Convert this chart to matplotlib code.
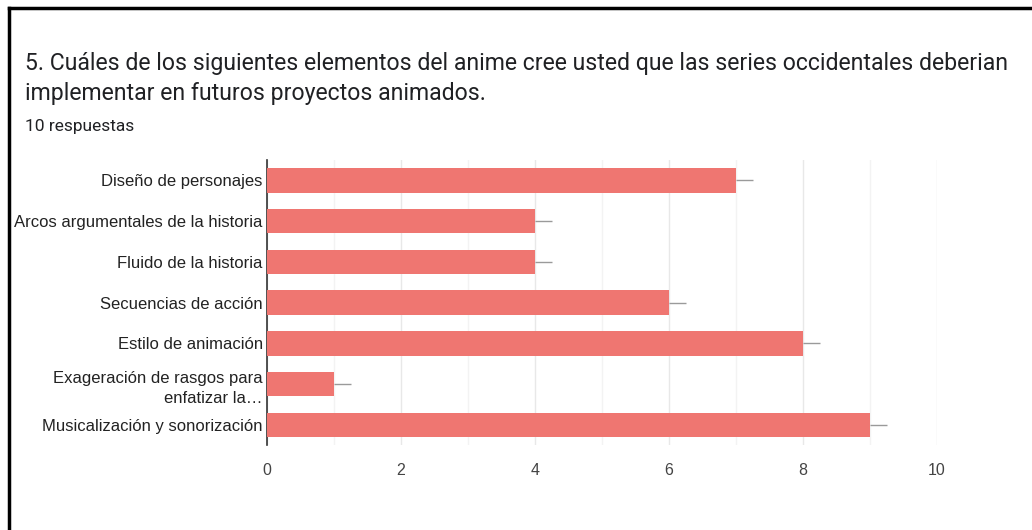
import matplotlib.pyplot as plt
from matplotlib.lines import Line2D
import numpy as np

categories = [
    "Diseño de personajes",
    "Arcos argumentales de la historia",
    "Fluido de la historia",
    "Secuencias de acción",
    "Estilo de animación",
    "Exageración de rasgos para\nenfatizar la…",
    "Musicalización y sonorización",
]
values = [7, 4, 4, 6, 8, 1, 9]
xticks = [0, 2, 4, 6, 8, 10]

title_1 = "5. Cuáles de los siguientes elementos del anime cree usted que las series occidentales deberian"
title_2 = "implementar en futuros proyectos animados."
subtitle = "10 respuestas"

BAR = "#ef7671"

fig = plt.figure(figsize=(10.32, 5.3), dpi=100)
ax = fig.add_axes([0.2587, 0.16, 0.6492, 0.538])

y = np.arange(len(categories))
ax.barh(y, values, height=0.6, color=BAR, zorder=3)
# short grey whisker google forms draws after each bar
ax.errorbar(values, y, xerr=[np.zeros(len(values)), np.full(len(values), 0.25)],
            fmt="none", ecolor="#9a9a9a", elinewidth=1, capsize=0, zorder=2)

ax.set_xlim(0, 10)
ax.set_ylim(len(categories) - 0.5, -0.5)
ax.set_xticks(xticks)
ax.set_xticks(np.arange(0, 11, 1), minor=True)
ax.set_yticks(y)
ax.set_yticklabels(categories, fontsize=12, color="#222222", family="Liberation Sans",
                   linespacing=1.45)
ax.set_xticklabels([str(t) for t in xticks], fontsize=11.5, color="#444444",
                   family="Liberation Sans")
ax.tick_params(axis="both", which="both", length=0)
ax.tick_params(axis="x", pad=13)
ax.tick_params(axis="y", pad=3)

ax.grid(axis="x", which="major", color="#e8e8e8", linewidth=1, zorder=0)
ax.grid(axis="x", which="minor", color="#f3f3f3", linewidth=1, zorder=0)
for s in ["top", "right", "bottom"]:
    ax.spines[s].set_visible(False)
ax.spines["left"].set_color("#333333")
ax.spines["left"].set_linewidth(1.2)

fig.text(0.024, 0.868, title_1, fontsize=16.6, color="#202124", family="Roboto")
fig.text(0.024, 0.811, title_2, fontsize=16.6, color="#202124", family="Roboto")
fig.text(0.024, 0.753, subtitle, fontsize=12.5, color="#202124", family="Roboto")

# frame on top and left like the screenshot
fig.add_artist(Line2D([0.009, 1.0], [0.985, 0.985], color="black", linewidth=2.5,
                      transform=fig.transFigure))
fig.add_artist(Line2D([0.009, 0.009], [0.0, 0.985], color="black", linewidth=2.5,
                      transform=fig.transFigure))

fig.savefig("out.png", dpi=100)
